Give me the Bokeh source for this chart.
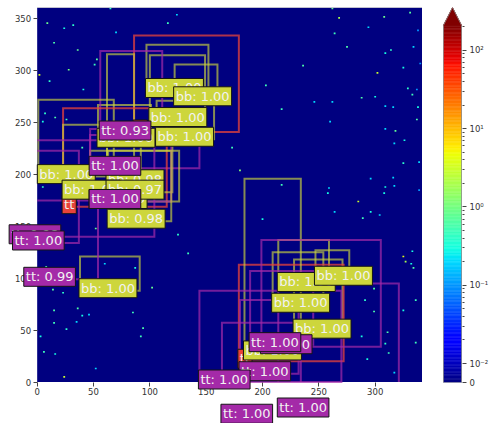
import numpy as np
from bokeh.plotting import figure
from bokeh.models import Range1d, FixedTicker, Label, ColumnDataSource
from bokeh.layouts import row
from bokeh.embed import file_html
from bokeh.resources import INLINE

# ---------------- data ----------------
IMG_W, IMG_H = 342, 361
X_TICKS = [0, 50, 100, 150, 200, 250, 300]
Y_TICKS = [0, 50, 100, 150, 200, 250, 300, 350]

# detection boxes (data coords), class and label text, in drawing order
box_cls = ["gt", "bb", "bb", "bb", "bb", "bb", "tt", "bb", "bb", "tt", "gt", "bb",
           "bb", "bb", "tt", "bb", "bb", "tt", "tt", "tt",
           "bb", "bb", "bb", "bb", "gt", "bb", "tt", "tt", "tt", "tt", "tt", "tt"]
box_x0 = [86, 97, 100, 122, 106, 54, 56, 1, 62, 47, 23, 23,
          47, 62, 47, 63, 38, -24, -21, -11,
          214, 247, 209, 228, 179, 184, 199, 189, 180, 144, 164, 214]
box_y0 = [241, 281, 253, 273, 234, 233, 240, 198, 193, 206, 169, 183,
          174, 183, 174, 155, 88, 140, 134, 99,
          94, 100, 74, 49, 20, 28, 34, 36, 8, 0, -33, -27]
box_x1 = [179, 152, 149, 160, 157, 101, 111, 68, 86, 144, 115, 92,
          126, 120, 119, 119, 91, 104, 37, 54,
          259, 277, 254, 271, 272, 234, 305, 245, 232, 270, 234, 321]
box_y1 = [334, 325, 315, 306, 271, 267, 319, 272, 316, 244, 264, 248,
          223, 242, 238, 223, 121, 233, 223, 175,
          137, 127, 125, 118, 113, 196, 137, 107, 79, 88, 57, 95]
box_text = ["tt", "bb: 1.00", "bb: 1.00", "bb: 1.00", "bb: 1.00", "bb: 1.00", "tt: 0.93",
            "bb: 1.00", "bb: 0.98", "tt: 1.00", "tt", "bb: 1.00",
            "bb: 1.00", "bb: 0.97", "tt: 1.00", "bb: 0.98", "bb: 1.00", "tt: 0.98", "tt: 1.00", "tt: 0.99",
            "bb: 1.00", "bb: 1.00", "bb: 1.00", "bb: 1.00", "tt", "bb: 1.00",
            "tt: 1.00", "tt: 1.00", "tt: 1.00", "tt: 1.00", "tt: 1.00", "tt: 1.00"]

# sparse bright pixels of the image (x, y, value)
spk_x = [262, 268, 308, 331, 264, 294, 275, 309, 314, 338, 334, 236, 302, 325, 340, 203, 288, 300, 333, 337,
         329, 246, 262, 217, 309, 316, 338, 337, 260, 318, 309, 326, 317, 173, 325, 339, 180, 296, 316, 309,
         317, 308, 339, 217, 259, 258, 285, 264, 304, 296, 200,
         9, 32, 24, 15, 36, 28, 2, 11, 53, 51, 41, 7, 16, 26, 5, 65, 70, 124, 116, 40, 5,
         15, 36, 46, 15, 3, 26, 94, 85, 102, 60, 87, 134, 8, 23, 14, 35, 92, 52, 24, 16, 6, 52, 125, 40,
         289, 333, 325, 327, 334, 332, 291, 299, 325, 336, 311, 288, 312, 317, 299, 309, 336, 293]
spk_y = [360, 351, 352, 356, 336, 342, 323, 317, 320, 339, 323, 305, 298, 303, 307, 286, 274, 275, 277, 282,
         283, 270, 270, 263, 266, 265, 265, 253, 251, 242, 244, 233, 230, 226, 211, 212, 204, 196, 197, 188,
         189, 182, 185, 190, 187, 182, 174, 164, 161, 164, 157,
         346, 344, 341, 327, 320, 301, 296, 290, 311, 306, 282, 259, 255, 253, 251, 360, 337, 354, 346, 226, 188,
         57, 71, 65, 69, 44, 51, 52, 67, 91, 114, 110, 124, 111, 86, 89, 58, 44, 13, 5, 27, 29, 148, 142, 64,
         158, 126, 121, 116, 110, 114, 79, 68, 69, 79, 48, 44, 28, 9, 90, 37, 38, 22]
spk_v = [0.8, 2.0, 0.9, 0.7, 0.5, 0.2, 0.6, 0.3, 0.4, 0.1, 0.2, 0.6, 3.0, 0.3, 0.1, 0.5, 0.6, 0.3, 0.5, 0.1,
         0.4, 0.2, 0.2, 0.5, 0.2, 0.2, 0.3, 0.6, 0.2, 0.8, 0.2, 0.3, 0.2, 0.5, 0.4, 0.2, 1.2, 0.2, 0.2, 0.3,
         0.2, 0.3, 0.1, 0.5, 0.2, 0.3, 3.0, 0.2, 0.2, 0.3, 0.3,
         0.9, 0.4, 0.3, 0.6, 0.8, 1.0, 3.5, 0.4, 0.7, 0.5, 0.3, 0.4, 0.6, 0.5, 0.3, 0.4, 0.2, 0.2, 0.5, 0.6, 0.4,
         0.5, 0.6, 0.2, 0.6, 0.3, 0.4, 0.6, 0.5, 0.8, 0.2, 0.3, 0.5, 0.6, 0.4, 0.7, 0.2, 0.5, 0.2, 3.0, 0.3, 0.5,
         0.8, 0.4, 0.3,
         0.5, 0.3, 4.0, 2.0, 0.6, 0.3, 0.4, 0.6, 0.3, 0.5, 0.6, 0.3, 0.5, 0.2, 0.6, 0.4, 0.5, 0.3]

# colour scale (symmetric-log norm)
LINTHRESH = 0.01
VMAX = 208.0
CB_TICK_VALUES = [0, 0.01, 0.1, 1, 10, 100]
CB_TICK_LABELS = ["0", "10\u207b\u00b2", "10\u207b\u00b9", "10\u2070", "10\u00b9", "10\u00b2"]

# view limits of the main panel (room for labels that spill outside the image)
VIEW_X0, VIEW_Y0 = -29, -40

# ---------------- helpers ----------------
LIN_T = 0.242


def tpos(v):
    v = np.asarray(v, float)
    return np.where(v <= LINTHRESH, v / LINTHRESH * LIN_T,
                    LIN_T + np.log10(np.maximum(v, LINTHRESH) / LINTHRESH))


def jet(f):
    f = np.clip(np.atleast_1d(np.asarray(f, float)), 0, 1)
    r = np.interp(f, [0, .35, .66, .89, 1], [0, 0, 1, 1, .5])
    g = np.interp(f, [0, .125, .375, .64, .91, 1], [0, 0, 1, 1, 0, 0])
    b = np.interp(f, [0, .11, .34, .65, 1], [.5, 1, 1, 0, 0])
    return ["#%02x%02x%02x" % (int(round(R * 255)), int(round(G * 255)), int(round(B * 255)))
            for R, G, B in zip(r, g, b)]


def clipped_paths(x0, y0, x1, y1):
    """Perimeter of a box clipped to the image extent, as a list of polylines."""
    edges = [((x0, y0), (x1, y0)), ((x1, y0), (x1, y1)), ((x1, y1), (x0, y1)), ((x0, y1), (x0, y0))]
    segs = []
    for (ax, ay), (bx, by) in edges:
        if ay == by:  # horizontal
            if not (0 <= ay <= IMG_H):
                segs.append(None); continue
            lo, hi = max(min(ax, bx), 0), min(max(ax, bx), IMG_W)
            if lo >= hi:
                segs.append(None); continue
            segs.append(((lo, ay), (hi, ay)) if ax < bx else ((hi, ay), (lo, ay)))
        else:  # vertical
            if not (0 <= ax <= IMG_W):
                segs.append(None); continue
            lo, hi = max(min(ay, by), 0), min(max(ay, by), IMG_H)
            if lo >= hi:
                segs.append(None); continue
            segs.append(((ax, lo), (ax, hi)) if ay < by else ((ax, hi), (ax, lo)))
    paths = []
    cur = None
    for s in segs:
        if s is None:
            if cur: paths.append(cur)
            cur = None
            continue
        if cur and cur[-1] == s[0]:
            cur.append(s[1])
        else:
            if cur: paths.append(cur)
            cur = [s[0], s[1]]
    if cur: paths.append(cur)
    if len(paths) > 1 and paths[-1][-1] == paths[0][0]:
        paths[0] = paths[-1][:-1] + paths[0]
        paths.pop()
    return paths


T_TOP = float(tpos(VMAX))
T_TIP = T_TOP * 1.05

LABEL_BG = {"bb": "#cdd63c", "tt": "#a42aa8", "gt": "#e8433a"}
LINE_ALPHA = {"bb": 0.65, "tt": 0.7, "gt": 0.75}
FONT = "DejaVu Sans"

# ---------------- main figure ----------------
p = figure(frame_width=418, frame_height=416,
           x_range=Range1d(VIEW_X0, IMG_W), y_range=Range1d(VIEW_Y0, IMG_H),
           output_backend="svg", toolbar_location=None,
           min_border_left=4, min_border_right=0, min_border_top=7, min_border_bottom=0)
p.grid.visible = False
p.outline_line_color = None
p.background_fill_color = "white"

# image background (value 0) and bright pixels
p.quad(left=[0], right=[IMG_W], bottom=[0], top=[IMG_H], fill_color=jet(0)[0], line_color=None)
spk_colors = jet(tpos(spk_v) / T_TOP)
p.rect(x=spk_x, y=spk_y, width=1.6, height=1.6, fill_color=spk_colors, line_color=None)

# image spines (top and right)
p.multi_line(xs=[[0, IMG_W], [IMG_W, IMG_W]], ys=[[IMG_H, IMG_H], [0, IMG_H]],
             line_color="#c4c4c4", line_width=1)

inside = dict(left=[], right=[], bottom=[], top=[], color=[], alpha=[])
outside = dict(xs=[], ys=[], color=[], alpha=[])
for c, x0, y0, x1, y1 in zip(box_cls, box_x0, box_y0, box_x1, box_y1):
    if x0 >= 0 and y0 >= 0 and x1 <= IMG_W and y1 <= IMG_H:
        inside["left"].append(x0); inside["right"].append(x1)
        inside["bottom"].append(y0); inside["top"].append(y1)
        inside["color"].append(LABEL_BG[c]); inside["alpha"].append(LINE_ALPHA[c])
    else:
        for path in clipped_paths(x0, y0, x1, y1):
            outside["xs"].append([pt[0] for pt in path])
            outside["ys"].append([pt[1] for pt in path])
            outside["color"].append(LABEL_BG[c]); outside["alpha"].append(LINE_ALPHA[c])

p.quad(left="left", right="right", bottom="bottom", top="top", source=ColumnDataSource(inside),
       fill_color=None, line_color="color", line_alpha="alpha", line_width=2, line_join="miter")
p.multi_line(xs="xs", ys="ys", source=ColumnDataSource(outside),
             line_color="color", line_alpha="alpha", line_width=2, line_join="miter")

for c, x0, y0, t in zip(box_cls, box_x0, box_y0, box_text):
    p.add_layout(Label(x=x0, y=y0, x_units="data", y_units="data", text=t,
                       text_font=FONT, text_font_size="13px", text_color="#f2f2f2",
                       text_align="left", text_baseline="middle", x_offset=-1, y_offset=2.5,
                       background_fill_color=LABEL_BG[c], background_fill_alpha=1.0,
                       border_line_color="#151515", border_line_width=1, padding=2))

for ax in (p.xaxis[0], p.yaxis[0]):
    ax.fixed_location = 0
    ax.major_label_text_font = FONT
    ax.major_label_text_font_size = "8.5px"
    ax.major_label_text_color = "#333333"
    ax.major_tick_line_color = "#444444"
    ax.major_tick_out = 4
    ax.major_tick_in = 0
    ax.minor_tick_line_color = None
    ax.axis_line_color = None
    ax.major_label_standoff = 2
p.xaxis.ticker = FixedTicker(ticks=X_TICKS)
p.yaxis.ticker = FixedTicker(ticks=Y_TICKS)

# ---------------- colour bar ----------------
cb = figure(frame_width=20, frame_height=375,
            x_range=Range1d(-0.055, 1.055), y_range=Range1d(0, T_TIP),
            y_axis_location="right", output_backend="svg", toolbar_location=None,
            min_border_left=20, min_border_right=0, min_border_top=7, min_border_bottom=41)
cb.xaxis.visible = False
cb.grid.visible = False
cb.outline_line_color = None

N = 256
edges = np.linspace(0, T_TOP, N + 1)
grad_cols = jet((np.arange(N) + 0.5) / N)
cb.quad(left=0, right=1, bottom=edges[:-1], top=edges[1:], fill_color=grad_cols,
        line_color=grad_cols, line_width=0.5)
cb.patch(x=[0, 1, 0.5], y=[T_TOP, T_TOP, T_TIP], fill_color=jet(1.0)[0], line_color=jet(1.0)[0])
cb.line(x=[0, 1, 1, 0.5, 0, 0], y=[0, 0, T_TOP, T_TIP, T_TOP, 0], line_color="#8a8a8a", line_width=0.8)

major_t = [float(v) for v in tpos(CB_TICK_VALUES)]
minor_t = []
for k in range(-2, 3):
    for m in range(2, 10):
        tv = float(tpos(m * 10.0 ** k))
        if tv <= T_TOP:
            minor_t.append(tv)
ay = cb.yaxis[0]
ay.ticker = FixedTicker(ticks=major_t, minor_ticks=minor_t)
ay.major_label_overrides = {t: lab for t, lab in zip(major_t, CB_TICK_LABELS)}
ay.major_label_text_font = FONT
ay.major_label_text_font_size = "8.5px"
ay.major_label_text_color = "#333333"
ay.major_tick_line_color = "#444444"
ay.minor_tick_line_color = "#444444"
ay.major_tick_out = 4
ay.major_tick_in = 0
ay.minor_tick_out = 2
ay.minor_tick_in = 0
ay.axis_line_color = None
ay.major_label_standoff = 3

layout = row(p, cb)
open("out.html", "w").write(file_html(layout, INLINE))
